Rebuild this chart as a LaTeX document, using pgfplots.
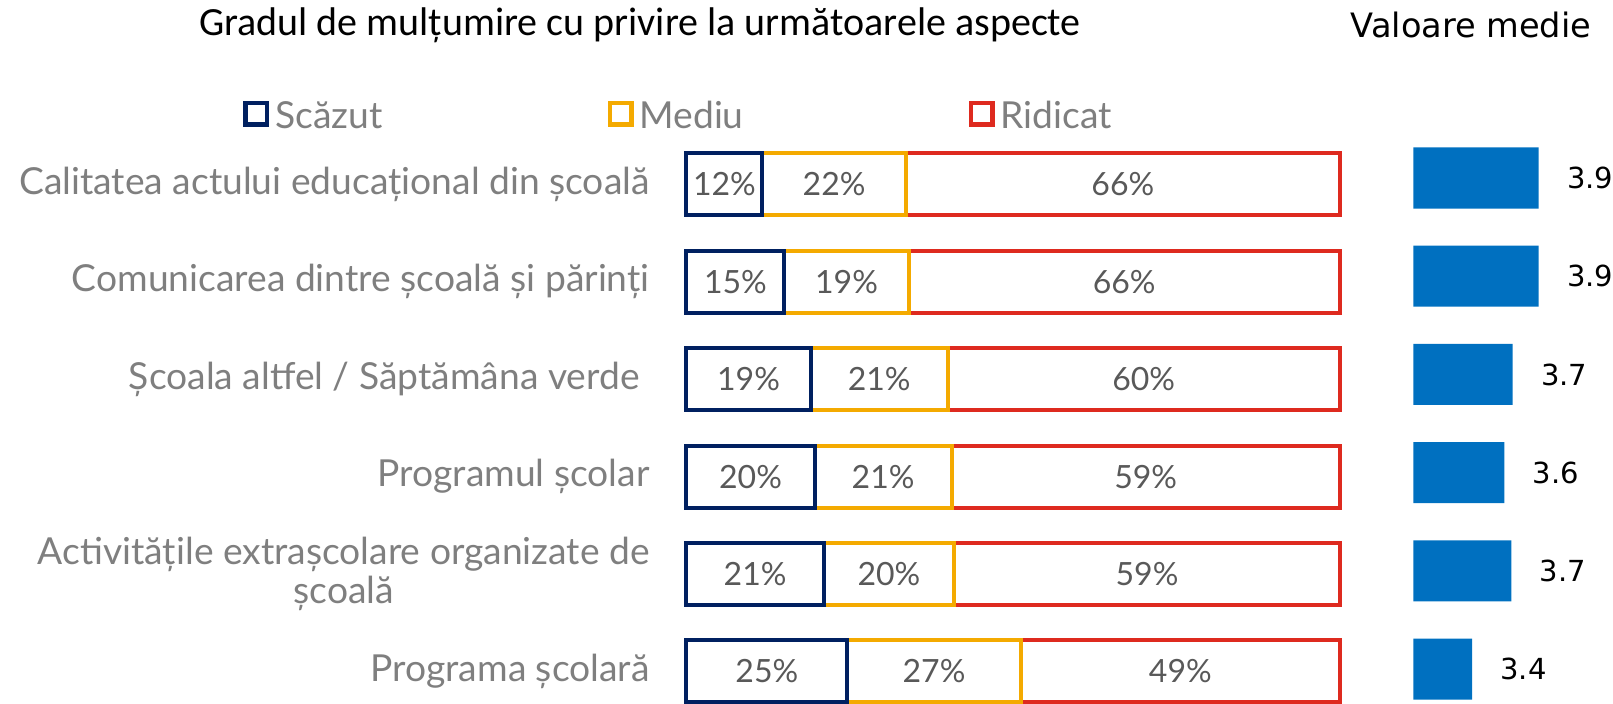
\documentclass[border=0pt]{standalone}
\usepackage{pgfplots}
\pgfplotsset{compat=1.18}
\usepackage{pgfplotstable}
\usepackage{fontspec}
\setmainfont{Lato}
\newfontfamily\titlefont{Carlito}
\newfontfamily\dejavu{DejaVu Sans}
\definecolor{cNavy}{HTML}{002060}
\definecolor{cOrange}{HTML}{F4AA00}
\definecolor{cRed}{HTML}{DE2A1F}
\definecolor{cBlue}{HTML}{0070C0}
\definecolor{cLabel}{HTML}{7F7F7F}
\definecolor{cVal}{HTML}{595959}

% row: 5 = top category
\pgfplotstableread{
row low mid high mean
5 11.6 22.0 66.4 3.903
4 15 19 66 3.903
3 19 21 60 3.706
2 19.6 21.0 59.4 3.642
1 21 20 59 3.695
0 24.6 26.6 48.8 3.398
}\data

\pgfplotsset{
  sqlegend/.style={legend image code/.code={%
    \draw[##1, line width=2.2pt, fill=white] (0pt,-4.2pt) rectangle (10.8pt,6.6pt);}},
  pctlabel/.style={draw=none, mark=none, nodes near coords={\pgfmathprintnumber[fixed,precision=0,assume math mode=true]{\pgfplotspointmeta}\%},
    every node near coord/.append style={anchor=center, inner sep=0pt, text=cVal, font=\fontsize{16}{19}\selectfont}},
}

\begin{document}
\begin{tikzpicture}
\path[use as bounding box] (0,0) rectangle (806.5pt,352pt);

% ---- stacked bars ----
\begin{axis}[
  at={(343.25pt,-8.1pt)}, anchor=south west,
  width=326.6pt, height=292.2pt, scale only axis,
  xmin=0, xmax=100, ymin=-0.5, ymax=5.5,
  xbar stacked, bar width=31pt,
  axis line style={draw=none}, major tick length=0pt,
  xtick=\empty, ytick={0,1,2,3,4,5},
  yticklabels={Programa școlară,{Activitățile extrașcolare organizate de\\școală},Programul școlar,Școala altfel / Săptămâna verde\hspace*{5pt},Comunicarea dintre școală și părinți,Calitatea actului educațional din școală},
  yticklabel style={inner sep=0pt, xshift=-18.25pt, anchor=east, align=center, text=cLabel, font=\fontsize{18.6}{19.5}\selectfont},
  legend columns=3,
  legend style={at={(axis description cs:-0.679,1.0339)}, anchor=west, draw=none, fill=none, inner sep=0pt,
    font=\fontsize{18.6}{21}\selectfont, text=cLabel, nodes={inner sep=0pt},
    /tikz/every odd column/.append style={column sep=3pt},
    /tikz/every even column/.append style={column sep=112.5pt}},
  clip=false,
]
\addplot[draw=cNavy, fill=white, line width=2pt, sqlegend] table[x=low, y=row]{\data};
\addplot[draw=cOrange, fill=white, line width=2pt, sqlegend] table[x=mid, y=row]{\data};
\addplot[draw=cRed, fill=white, line width=2pt, sqlegend] table[x=high, y=row]{\data};
\legend{Scăzut,Mediu,Ridicat}
\end{axis}

% ---- percentage labels ----
\begin{axis}[
  at={(343.25pt,-8.1pt)}, anchor=south west,
  width=326.6pt, height=292.2pt, scale only axis,
  xmin=0, xmax=100, ymin=-0.5, ymax=5.5,
  hide axis, clip=false,
]
\addplot[pctlabel, point meta=\thisrow{low}] table[x expr=\thisrow{low}/2, y=row]{\data};
\addplot[pctlabel, point meta=\thisrow{mid}] table[x expr=\thisrow{low}+\thisrow{mid}/2, y=row]{\data};
\addplot[pctlabel, point meta=\thisrow{high}] table[x expr=\thisrow{low}+\thisrow{mid}+\thisrow{high}/2, y=row]{\data};
\end{axis}

% ---- mean values ----
\begin{axis}[
  at={(706.65pt,-7.15pt)}, anchor=south west,
  width=82.3pt, height=294.7pt, scale only axis,
  xmin=2.953, xmax=4.2, ymin=-0.5, ymax=5.5,
  xbar, bar width=30.5pt,
  hide axis, clip=false,
  point meta=x,
  nodes near coords={\pgfmathprintnumber[fixed,fixed zerofill,precision=1,assume math mode=true]{\pgfplotspointmeta}},
  every node near coord/.append style={anchor=west, inner sep=0pt, xshift=14pt, text=black, font=\dejavu\fontsize{14.5}{17}\selectfont},
]
\addplot[draw=none, fill=cBlue] table[x=mean, y=row]{\data};
\end{axis}

\node[font=\titlefont\fontsize{20}{24}\selectfont, text=black] at (320pt,339.5pt) {Gradul de mulțumire cu privire la următoarele aspecte};
\node[font=\dejavu\fontsize{16.8}{20}\selectfont, text=black] at (735.5pt,339.5pt) {Valoare medie};
\end{tikzpicture}
\end{document}
